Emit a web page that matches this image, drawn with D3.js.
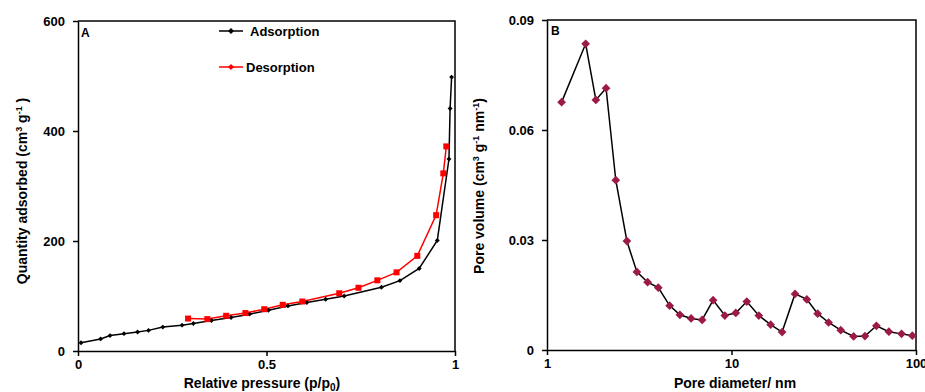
<!DOCTYPE html>
<html>
<head>
<meta charset="utf-8">
<script src="https://cdn.jsdelivr.net/npm/d3@7"></script>
<style>
  html, body { margin: 0; padding: 0; background: #fff; }
  svg { display: block; font-family: "Liberation Sans", Arial, sans-serif; }
</style>
</head>
<body>
<svg id="chart" width="925" height="392"></svg>
<script>
// Panel A: N2 isotherm
const pressureAds = [0.008, 0.060, 0.085, 0.122, 0.158, 0.187, 0.225, 0.276, 0.306, 0.354, 0.406, 0.455, 0.505, 0.557, 0.607, 0.657, 0.706, 0.805, 0.854, 0.905, 0.953, 0.984, 0.987, 0.991];
const quantityAds = [15, 22, 28, 31.5, 34.5, 37.5, 43.5, 47, 50, 55.5, 61, 67, 74, 82, 88, 94, 100, 116, 128, 150, 201, 349, 441, 498];
const pressureDes = [0.977, 0.969, 0.950, 0.900, 0.845, 0.794, 0.744, 0.693, 0.595, 0.543, 0.494, 0.444, 0.393, 0.343, 0.292];
const quantityDes = [372, 323, 247, 173, 143, 128.5, 115, 105, 90, 84, 76, 69, 64, 58, 59];
const pressureTicks = [0, 0.5, 1];
const quantityTicks = [0, 200, 400, 600];

// Panel B: pore size distribution
const poreDiameter = [1.20, 1.62, 1.84, 2.09, 2.36, 2.71, 3.07, 3.51, 4.01, 4.62, 5.25, 6.04, 6.93, 7.95, 9.20, 10.55, 12.1, 14.06, 16.3, 18.8, 22.1, 25.6, 29.3, 33.6, 39.1, 45.9, 52.9, 61.0, 71.3, 83.5, 95.5];
const poreVolume = [0.0676, 0.0835, 0.0682, 0.0714, 0.0463, 0.0297, 0.0213, 0.0185, 0.0170, 0.0121, 0.0096, 0.0086, 0.0082, 0.0136, 0.0094, 0.0101, 0.0132, 0.0094, 0.0069, 0.0049, 0.0153, 0.0138, 0.0099, 0.0075, 0.0054, 0.0037, 0.0038, 0.0066, 0.0050, 0.0044, 0.0039];
const diameterTicks = [1, 10, 100];
const volumeTicks = [0, 0.03, 0.06, 0.09];

const svg = d3.select("#chart");

function styleAxis(g) {
  g.selectAll("path.domain").attr("stroke", "#000").attr("stroke-width", 1.5);
  g.selectAll(".tick line").attr("stroke", "#000").attr("stroke-width", 1.5);
  g.selectAll(".tick text")
    .attr("fill", "#000")
    .style("font-size", "13px")
    .style("font-weight", "bold")
    .style("font-family", "'Liberation Sans', Arial, sans-serif");
}

function frame(x0, x1, y0, y1) {
  svg.append("path")
    .attr("d", `M${x0},${y0}H${x1}V${y1}`)
    .attr("fill", "none").attr("stroke", "#000").attr("stroke-width", 1.5);
}

// square marker turned 45 degrees (an even diamond)
const diamond = area => d3.symbol().type(d3.symbolSquare).size(area);

// ---------- Panel A ----------
const xA = d3.scaleLinear().domain([0, 1]).range([78, 455]);
const yA = d3.scaleLinear().domain([0, 600]).range([351, 21]);

frame(78, 455, 21, 351);

svg.append("g").attr("transform", `translate(0,${yA(0)})`)
  .call(d3.axisBottom(xA).tickValues(pressureTicks).tickFormat(d3.format("")).tickSizeInner(5).tickSizeOuter(0).tickPadding(4))
  .call(styleAxis);
svg.append("g").attr("transform", `translate(${xA(0)},0)`)
  .call(d3.axisLeft(yA).tickValues(quantityTicks).tickSizeInner(5).tickSizeOuter(0).tickPadding(8))
  .call(styleAxis);

const lineA = d3.line();
const adsPts = pressureAds.map((p, i) => [xA(p), yA(quantityAds[i])]);
const desPts = pressureDes.map((p, i) => [xA(p), yA(quantityDes[i])]);

svg.append("path").attr("d", lineA(adsPts)).attr("fill", "none").attr("stroke", "#000").attr("stroke-width", 1.5);
svg.append("path").attr("d", lineA(desPts)).attr("fill", "none").attr("stroke", "#ff0000").attr("stroke-width", 1.5);

svg.append("g").selectAll("path").data(adsPts).join("path")
  .attr("transform", d => `translate(${d[0]},${d[1]}) rotate(45)`)
  .attr("d", diamond(12)).attr("fill", "#000");
svg.append("g").selectAll("rect").data(desPts).join("rect")
  .attr("x", d => d[0] - 3).attr("y", d => d[1] - 3)
  .attr("width", 6).attr("height", 6).attr("fill", "#ff0000");

// legend
const legend = [
  { label: "Adsorption", color: "#000", y: 31, tx: 250 },
  { label: "Desorption", color: "#ff0000", y: 67, tx: 246 }
];
legend.forEach(l => {
  svg.append("line").attr("x1", 219).attr("x2", 243).attr("y1", l.y).attr("y2", l.y)
    .attr("stroke", l.color).attr("stroke-width", 1.5);
  svg.append("path").attr("transform", `translate(231,${l.y}) rotate(45)`)
    .attr("d", diamond(18)).attr("fill", l.color);
  svg.append("text").attr("x", l.tx).attr("y", l.y + 4.5)
    .style("font-size", "13px").style("font-weight", "bold").text(l.label);
});

svg.append("text").attr("x", 81).attr("y", 37).style("font-size", "12px").style("font-weight", "bold").text("A");

// axis titles A
const xtA = svg.append("text").attr("x", 262).attr("y", 388).attr("text-anchor", "middle")
  .style("font-size", "14px").style("font-weight", "bold");
xtA.append("tspan").text("Relative pressure (p/p");
xtA.append("tspan").attr("dy", 3).style("font-size", "10px").text("0");
xtA.append("tspan").attr("dy", -3).text(")");

const ytA = svg.append("text").attr("transform", "translate(27,191) rotate(-90)").attr("text-anchor", "middle")
  .style("font-size", "14px").style("font-weight", "bold");
ytA.append("tspan").text("Quantity adsorbed (cm");
ytA.append("tspan").attr("dy", -5).style("font-size", "9px").text("3");
ytA.append("tspan").attr("dy", 5).text(" g");
ytA.append("tspan").attr("dy", -5).style("font-size", "9px").text("-1");
ytA.append("tspan").attr("dy", 5).text(" )");

// ---------- Panel B ----------
const xB = d3.scaleLog().domain([1, 100]).range([547, 916]);
const yB = d3.scaleLinear().domain([0, 0.09]).range([350, 20]);

frame(547, 916, 20, 350);

svg.append("g").attr("transform", `translate(0,${yB(0)})`)
  .call(d3.axisBottom(xB).tickValues(diameterTicks).tickFormat(d3.format("d")).tickSizeInner(5).tickSizeOuter(0).tickPadding(4))
  .call(styleAxis);
svg.append("g").attr("transform", `translate(${xB(1)},0)`)
  .call(d3.axisLeft(yB).tickValues(volumeTicks).tickFormat(d => d === 0 ? "0" : d3.format(".2f")(d)).tickSizeInner(5).tickSizeOuter(0).tickPadding(8))
  .call(styleAxis);

const psdPts = poreDiameter.map((d, i) => [xB(d), yB(poreVolume[i])]);
svg.append("path").attr("d", d3.line()(psdPts)).attr("fill", "none").attr("stroke", "#000").attr("stroke-width", 1.5);
svg.append("g").selectAll("path").data(psdPts).join("path")
  .attr("transform", d => `translate(${d[0]},${d[1]}) rotate(45)`)
  .attr("d", diamond(38))
  .attr("fill", "#9b1b45");

svg.append("text").attr("x", 551).attr("y", 35).style("font-size", "12px").style("font-weight", "bold").text("B");

svg.append("text").attr("x", 735).attr("y", 388).attr("text-anchor", "middle")
  .style("font-size", "14px").style("font-weight", "bold").text("Pore diameter/ nm");

const ytB = svg.append("text").attr("transform", "translate(484,186) rotate(-90)").attr("text-anchor", "middle")
  .style("font-size", "14px").style("font-weight", "bold");
ytB.append("tspan").text("Pore volume (cm");
ytB.append("tspan").attr("dy", -5).style("font-size", "9px").text("3");
ytB.append("tspan").attr("dy", 5).text(" g");
ytB.append("tspan").attr("dy", -5).style("font-size", "9px").text("-1");
ytB.append("tspan").attr("dy", 5).text(" nm");
ytB.append("tspan").attr("dy", -5).style("font-size", "9px").text("-1");
ytB.append("tspan").attr("dy", 5).text(")");
</script>
</body>
</html>
